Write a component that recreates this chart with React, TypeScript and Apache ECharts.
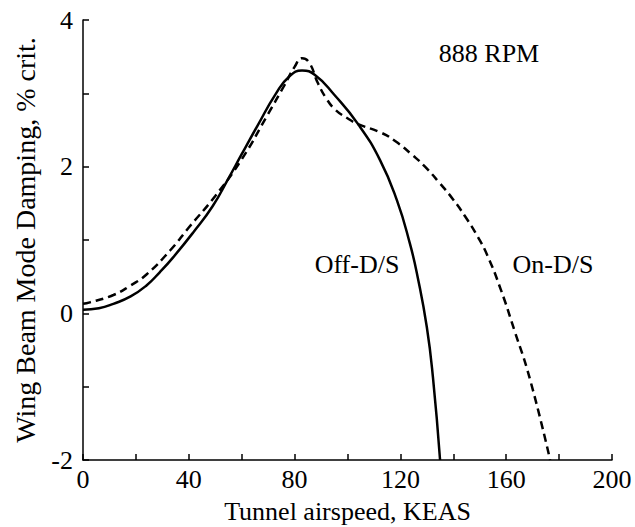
import React, { useEffect, useRef } from "react";
import * as echarts from "echarts";

const offDS: [number, number][] = [
  [0, 0.05], [6, 0.07], [11.5, 0.13], [18, 0.23], [24, 0.38], [29, 0.56], [34, 0.76],
  [41.6, 1.1], [49, 1.46], [55, 1.84], [60, 2.17], [66, 2.56], [73, 3.0], [78, 3.23],
  [82.8, 3.31], [87.7, 3.25], [95, 2.98], [104, 2.58], [112.3, 2.09], [118.7, 1.54],
  [123.6, 0.95], [126.5, 0.5], [130, -0.19], [132.3, -0.87], [135, -2.0],
];

const onDS: [number, number][] = [
  [0, 0.13], [2.6, 0.15], [11.5, 0.25], [18, 0.38], [24, 0.53], [33, 0.86], [40, 1.17],
  [50, 1.6], [60, 2.1], [70, 2.72], [76, 3.1], [80, 3.36], [82.8, 3.48], [85.5, 3.42],
  [88.8, 3.14], [92, 2.93], [95.3, 2.78], [100, 2.66], [104, 2.58], [112.3, 2.47],
  [118, 2.35], [124.8, 2.15], [129.3, 2.0], [135, 1.77], [140, 1.55], [144.5, 1.32],
  [149, 1.06], [153, 0.78], [158, 0.32], [163, -0.22], [169, -0.9], [176.6, -2.0],
];

const xTitle = "Tunnel airspeed, KEAS";
const yTitle = "Wing Beam Mode Damping, % crit.";
const rpmLabel = "888 RPM";
const offLabel = "Off-D/S";
const onLabel = "On-D/S";

const FONT = "'Liberation Serif', 'Times New Roman', serif";

export default function App() {
  const ref = useRef<HTMLDivElement>(null);
  useEffect(() => {
    if (!ref.current) return;
    const chart = echarts.init(ref.current, null, { renderer: "svg" });
    const axisLine = { show: true, onZero: false, lineStyle: { color: "#000", width: 1.5 } };
    const axisTick = { show: true, inside: true, length: 6, lineStyle: { color: "#000", width: 1.5 } };
    chart.setOption({
      animation: false,
      backgroundColor: "#fff",
      grid: { left: 83, right: 23, top: 20, bottom: 67, containLabel: false, outerBoundsMode: "none" },
      xAxis: {
        type: "value",
        min: 0,
        max: 200,
        interval: 20,
        name: xTitle,
        nameLocation: "middle",
        nameGap: 37,
        nameTextStyle: { fontFamily: FONT, fontSize: 26, color: "#000", lineHeight: 28 },
        axisLine,
        axisTick,
        splitLine: { show: false },
        axisLabel: {
          fontFamily: FONT,
          fontSize: 26,
          color: "#000",
          margin: 6,
          formatter: (v: number) => (v % 40 === 0 ? String(v) : ""),
        },
      },
      yAxis: {
        type: "value",
        min: -2,
        max: 4,
        interval: 1,
        name: yTitle,
        nameLocation: "middle",
        nameGap: 44,
        nameTextStyle: { fontFamily: FONT, fontSize: 28, color: "#000" },
        axisLine,
        axisTick,
        splitLine: { show: false },
        axisLabel: {
          fontFamily: FONT,
          fontSize: 26,
          color: "#000",
          margin: 10,
          formatter: (v: number) => (v % 2 === 0 ? String(v) : ""),
        },
      },
      series: [
        {
          type: "line",
          data: offDS,
          smooth: 0.5,
          showSymbol: false,
          lineStyle: { color: "#000", width: 2.5, type: "solid" },
        },
        {
          type: "line",
          data: onDS,
          smooth: 0.5,
          showSymbol: false,
          lineStyle: { color: "#000", width: 2.5, type: [8, 5] },
        },
      ],
      graphic: [
        {
          type: "text",
          x: 489,
          y: 53,
          style: { text: rpmLabel, font: `26px ${FONT}`, fill: "#000", align: "center", verticalAlign: "middle" },
        },
        {
          type: "text",
          x: 357,
          y: 264,
          style: { text: offLabel, font: `26px ${FONT}`, fill: "#000", align: "center", verticalAlign: "middle" },
        },
        {
          type: "text",
          x: 553,
          y: 264,
          style: { text: onLabel, font: `26px ${FONT}`, fill: "#000", align: "center", verticalAlign: "middle" },
        },
      ],
    });
    return () => chart.dispose();
  }, []);
  return <div ref={ref} style={{ width: 635, height: 527, position: "absolute", left: 0, top: 0 }} />;
}
